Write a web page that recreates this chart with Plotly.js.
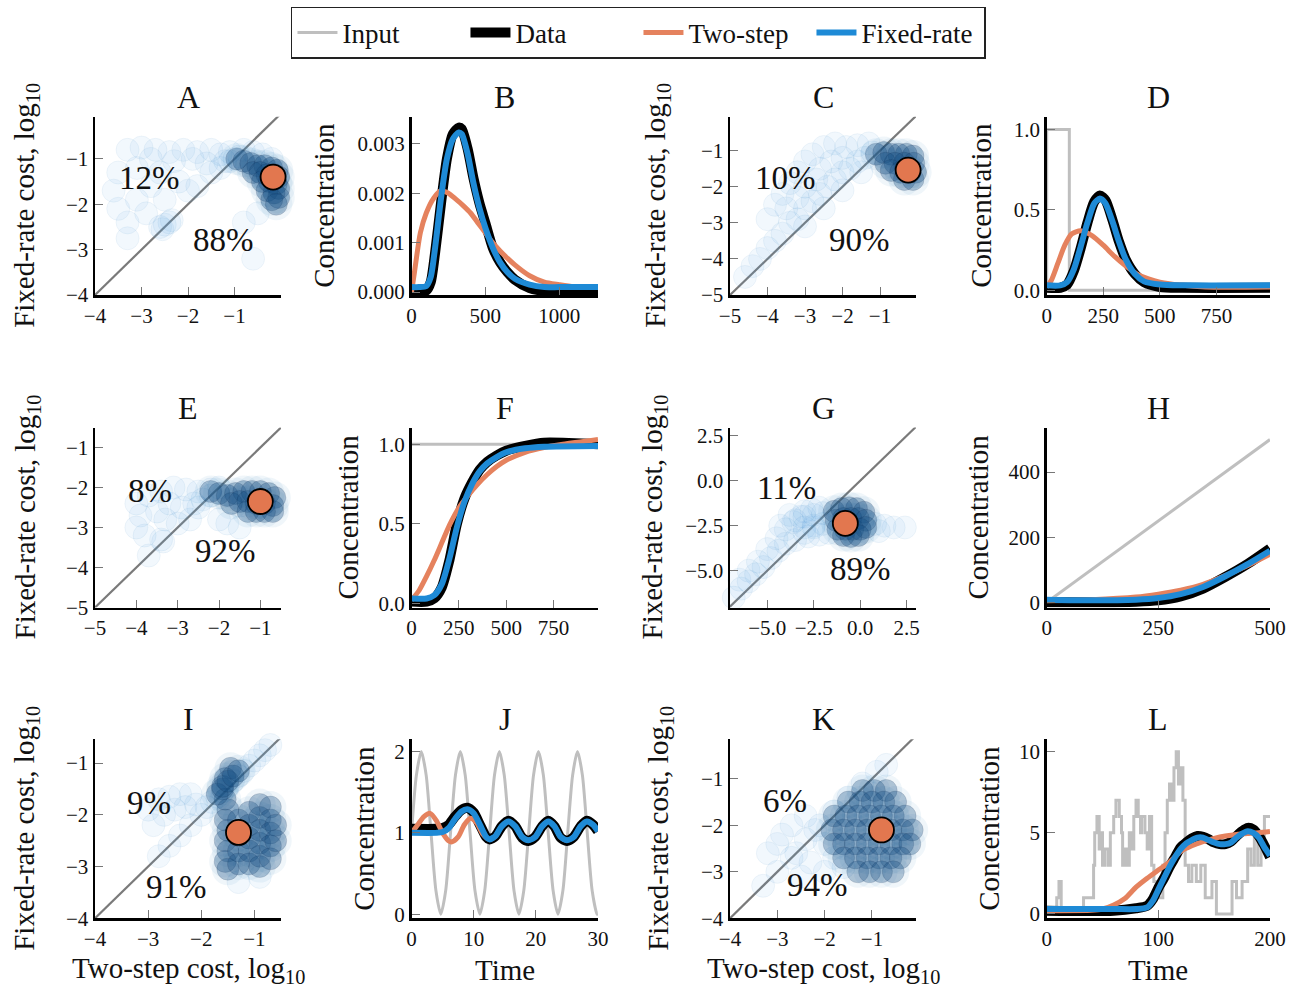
<!DOCTYPE html>
<html><head><meta charset="utf-8">
<script src="https://cdn.plot.ly/plotly-3.0.1.min.js"></script>
<style>html,body{margin:0;padding:0;background:#fff}#chart{width:1303px;height:989px}</style>
</head><body><div id="chart"></div>
<script>
// ================= DATA =================
const panelLetters = ['A','B','C','D','E','F','G','H','I','J','K','L'];
const legendNames = ['Input','Data','Two-step','Fixed-rate'];
const costYTitle = 'Fixed-rate cost, log<sub>10</sub>';
const costXTitle = 'Two-step cost, log<sub>10</sub>';
const concTitle = 'Concentration';
const timeTitle = 'Time';

// ---- cost scatter panels (log10 costs) ----
const aCloudX = [-3.3,-3.0,-2.7,-2.4,-2.1,-1.8,-1.5,-1.3,-1.1,-2.8,-2.3,-1.9,-1.6,-1.2,-3.1,-3.5,-3.6,-3.5,-3.3,-3.3,-3.1,-2.9,-2.8,-2.5,-2.6,-2.2,-2.0,-2.6,-2.5,-2.4,-2.55,-2.35,-1.8,-1.5,-1.3,-1.1,-1.0,-0.9,-0.6,-0.8,-0.5,-0.8,-0.6,-0.4,-0.2];
const aCloudY = [-0.8,-0.75,-0.8,-0.85,-0.8,-0.85,-0.8,-0.9,-0.85,-1.0,-1.05,-1.0,-1.1,-1.05,-1.2,-1.3,-1.7,-2.1,-2.4,-2.75,-1.9,-2.2,-1.6,-1.9,-1.3,-1.5,-1.7,-2.5,-2.45,-2.4,-2.55,-2.35,-1.6,-1.3,-1.2,-1.05,-1.0,-0.95,-3.2,-2.4,-2.2,-0.8,-0.85,-0.9,-1.0];
const aCoreX = [-0.95,-0.8,-0.65,-0.5,-0.35,-0.2,-0.08,-0.6,-0.45,-0.3,-0.15,-0.05,-0.4,-0.25,-0.1,-0.05,-0.3,-0.15,-0.05,-0.2,-0.1];
const aCoreY = [-1.0,-1.05,-1.1,-1.15,-1.15,-1.2,-1.25,-1.3,-1.3,-1.35,-1.35,-1.4,-1.5,-1.5,-1.55,-1.65,-1.7,-1.75,-1.85,-1.9,-2.0];
const aDot = [-0.17,-1.40];
const aPct = ['12%','88%'], aPctX = [-2.82,-1.24], aPctY = [-1.42,-2.79];

const cCloudX = [-4.6,-4.4,-4.2,-4.0,-3.8,-3.6,-3.4,-3.2,-3.0,-2.8,-2.6,-2.4,-2.2,-2.0,-1.8,-1.6,-1.4,-1.2,-4.0,-3.8,-3.6,-3.4,-3.2,-3.0,-2.8,-2.5,-2.2,-1.9,-1.6,-1.3,-3.5,-3.0,-2.6,-2.3,-2.0,-2.7,-3.2,-2.5,-2.0,-1.5,-3.0];
const cCloudY = [-4.5,-4.2,-4.0,-3.7,-3.5,-3.3,-3.0,-2.9,-2.6,-2.4,-2.2,-2.0,-1.8,-1.6,-1.5,-1.3,-1.2,-1.05,-2.9,-2.5,-2.2,-1.9,-1.6,-1.3,-1.1,-0.9,-0.8,-0.9,-0.85,-0.8,-2.6,-2.0,-1.5,-1.3,-1.2,-1.8,-2.3,-2.6,-2.1,-1.6,-3.1];
const cCoreX = [-1.1,-0.9,-0.7,-0.5,-0.3,-0.12,-0.85,-0.6,-0.35,-0.1,-0.7,-0.45,-0.2,-0.05,-0.35,-0.12];
const cCoreY = [-1.1,-1.05,-1.1,-1.1,-1.1,-1.15,-1.35,-1.35,-1.35,-1.35,-1.55,-1.6,-1.6,-1.6,-1.8,-1.8];
const cDot = [-0.25,-1.54];
const cPct = ['10%','90%'], cPctX = [-3.53,-1.55], cPctY = [-1.77,-3.48];

const eCloudX = [-4.0,-3.7,-3.4,-3.1,-2.8,-2.5,-2.2,-3.9,-4.0,-3.8,-3.5,-3.2,-2.9,-2.6,-3.3,-3.0,-2.7,-3.7,-3.35,-3.4,-2.4,-2.2,-2.0,-2.5,-1.8,-1.5,-2.0];
const eCloudY = [-2.4,-2.2,-2.1,-2.0,-2.05,-2.1,-2.05,-2.7,-3.0,-3.2,-2.6,-2.4,-2.5,-2.4,-2.8,-2.9,-2.8,-3.7,-3.35,-3.3,-2.3,-2.2,-2.0,-2.5,-2.9,-3.0,-2.8];
const eCoreX = [-2.2,-2.0,-1.8,-1.6,-1.4,-1.2,-1.0,-0.8,-0.65,-1.7,-1.5,-1.3,-1.1,-0.9,-0.7,-1.3,-1.1,-0.9,-0.7];
const eCoreY = [-2.1,-2.15,-2.2,-2.15,-2.1,-2.1,-2.1,-2.15,-2.25,-2.4,-2.35,-2.35,-2.4,-2.4,-2.45,-2.6,-2.6,-2.6,-2.6];
const eDot = [-1.0,-2.35];
const ePct = ['8%','92%'], ePctX = [-3.68,-1.85], ePctY = [-2.08,-3.58];

const gCloudX = [-6.8,-6.4,-6.0,-5.6,-5.2,-4.8,-4.4,-4.0,-6.0,-5.5,-5.0,-4.5,-4.0,-3.6,-3.2,-3.0,-2.6,-2.2,-3.5,-3.0,-2.5,-3.8,-4.3,-6.5,0.8,1.3,1.8,2.4,1.0,-3.5,-3.0,-2.5,-2.0,-3.0,-2.5,-2.0,-1.7,-2.2,-2.8];
const gCloudY = [-6.5,-6.0,-5.6,-5.2,-4.8,-4.3,-3.9,-3.5,-5.0,-4.5,-3.8,-3.2,-2.7,-2.3,-2.0,-1.7,-1.6,-1.5,-3.3,-2.9,-2.6,-1.9,-2.5,-5.5,-2.4,-2.5,-2.6,-2.6,-2.8,-2.2,-2.0,-1.9,-1.8,-2.6,-2.5,-2.4,-2.9,-3.0,-3.1];
const gCoreX = [-1.4,-1.0,-0.6,-0.2,0.2,-1.3,-0.9,-0.5,-0.1,0.3,-1.2,-0.8,-0.4,0.0,0.3,-0.9,-0.5,-0.1];
const gCoreY = [-1.7,-1.55,-1.5,-1.55,-1.75,-2.2,-2.1,-2.1,-2.1,-2.2,-2.7,-2.7,-2.7,-2.7,-2.6,-3.05,-3.1,-3.05];
const gDot = [-0.8,-2.37];
const gPct = ['11%','89%'], gPctX = [-3.97,0.0], gPctY = [-0.42,-4.92];

const iCloudX = [-2.8,-2.6,-2.4,-2.2,-2.0,-1.9,-1.8,-1.7,-1.6,-1.5,-1.4,-1.3,-1.2,-1.1,-1.0,-0.9,-0.8,-0.7,-3.0,-2.8,-2.6,-2.4,-2.2,-2.9,-2.7,-2.5,-2.3,-2.1,-1.3,-0.9];
const iCloudY = [-2.8,-2.6,-2.4,-2.2,-2.0,-1.85,-1.75,-1.65,-1.55,-1.45,-1.35,-1.25,-1.15,-1.05,-0.95,-0.85,-0.75,-0.65,-1.9,-1.7,-1.65,-1.6,-1.6,-2.2,-2.0,-1.9,-1.85,-1.8,-3.3,-3.2];
const iCoreX = [-1.45,-1.55,-1.6,-1.55,-1.5,-1.55,-1.5,-1.55,-1.5,-1.55,-1.5,-1.3,-1.3,-1.3,-1.3,-1.1,-1.1,-1.1,-1.1,-1.1,-0.9,-0.9,-0.9,-0.9,-0.9,-0.9,-0.7,-0.7,-0.7,-0.7,-0.7,-0.6,-0.6,-1.7,-1.6,-1.5,-1.4,-1.3];
const iCoreY = [-1.1,-1.3,-1.5,-1.7,-1.9,-2.1,-2.3,-2.5,-2.7,-2.9,-3.05,-2.1,-2.4,-2.7,-2.95,-1.95,-2.2,-2.45,-2.7,-2.95,-1.8,-2.05,-2.3,-2.55,-2.8,-3.0,-1.85,-2.1,-2.35,-2.6,-2.85,-2.2,-2.5,-1.6,-1.45,-1.35,-1.25,-1.15];
const iDot = [-1.30,-2.34];
const iPct = ['9%','91%'], iPctX = [-2.99,-2.47], iPctY = [-1.77,-3.39];

const kCloudX = [-3.3,-3.0,-2.7,-2.4,-2.1,-1.8,-1.5,-1.2,-0.9,-0.7,-3.0,-2.7,-2.4,-2.6,-2.3,-2.0,-2.0,-1.8,-1.6,-2.2,-3.2,-2.9,-2.5];
const kCloudY = [-3.3,-3.0,-2.7,-2.3,-2.0,-1.7,-1.4,-1.1,-0.85,-0.7,-2.4,-2.0,-1.8,-2.6,-2.8,-2.4,-3.0,-2.7,-2.9,-2.1,-2.6,-2.2,-3.1];
const kCoreX = [-1.2,-0.95,-0.7,-1.5,-1.25,-1.0,-0.75,-0.5,-1.8,-1.55,-1.3,-1.05,-0.8,-0.55,-0.3,-1.85,-1.6,-1.35,-1.1,-0.85,-0.6,-0.35,-0.15,-1.8,-1.6,-1.35,-1.1,-0.85,-0.6,-0.35,-0.2,-1.6,-1.35,-1.1,-0.85,-0.6,-0.4,-1.3,-1.05,-0.8,-0.55];
const kCoreY = [-1.25,-1.25,-1.25,-1.5,-1.5,-1.5,-1.5,-1.5,-1.8,-1.8,-1.8,-1.8,-1.8,-1.8,-1.8,-2.1,-2.1,-2.1,-2.1,-2.1,-2.1,-2.1,-2.1,-2.4,-2.4,-2.4,-2.4,-2.4,-2.4,-2.4,-2.4,-2.7,-2.7,-2.7,-2.7,-2.7,-2.7,-3.0,-3.0,-3.0,-3.0];
const kDot = [-0.8,-2.1];
const kPct = ['6%','94%'], kPctX = [-2.84,-2.16], kPctY = [-1.48,-3.28];

// ---- concentration panels ----
const bTime = [0,50,100,130,160,200,240,280,320,340,380,420,460,500,550,600,650,700,800,900,1000,1263];
const bData = [0,0,0.00003,0.0002,0.0008,0.0018,0.0027,0.0032,0.00333,0.0033,0.0029,0.0023,0.0018,0.0014,0.0009,0.0006,0.0004,0.00025,0.00008,0.00002,0,0];
const bFixed = [0.0001,0.0001,0.00012,0.0003,0.0009,0.0019,0.0027,0.0031,0.00323,0.0032,0.0028,0.0022,0.0017,0.0013,0.0009,0.0006,0.0004,0.00027,0.00015,0.0001,0.0001,0.0001];
const bTwoTime = [0,20,60,100,150,200,250,300,350,400,450,500,550,600,700,800,900,1000,1100,1263];
const bTwo = [0,0.0004,0.0012,0.0016,0.0019,0.00205,0.002,0.00188,0.00175,0.0016,0.0014,0.0012,0.001,0.00083,0.00055,0.00033,0.0002,0.00015,0.00011,0.0001];

const dInTime = [0,0,100,100,987];
const dIn = [0,1,1,0,0];
const dTime = [0,60,90,120,150,180,210,235,260,290,320,350,390,430,500,600,987];
const dData = [0.015,0.015,0.035,0.12,0.26,0.42,0.55,0.59,0.56,0.44,0.3,0.19,0.1,0.05,0.02,0.015,0.015];
const dFixed = [0.03,0.03,0.05,0.13,0.27,0.42,0.54,0.57,0.54,0.43,0.3,0.19,0.1,0.055,0.035,0.03,0.03];
const dTwoTime = [0,20,50,80,110,150,200,250,300,350,400,450,500,600,700,987];
const dTwo = [0.02,0.06,0.17,0.28,0.35,0.37,0.34,0.28,0.21,0.15,0.1,0.07,0.05,0.03,0.02,0.02];

const fInTime = [0,985];
const fIn = [1,1];
const fTime = [0,80,120,160,200,240,280,320,360,400,450,500,600,700,985];
const fData = [0.01,0.01,0.03,0.1,0.27,0.5,0.66,0.76,0.84,0.89,0.93,0.96,0.99,1.01,1.0];
const fFixed = [0.03,0.03,0.05,0.12,0.28,0.48,0.64,0.75,0.83,0.88,0.92,0.95,0.975,0.985,0.99];
const fTwoTime = [0,40,80,120,160,200,250,300,350,400,450,500,600,700,800,985];
const fTwo = [0.02,0.08,0.17,0.27,0.38,0.49,0.6,0.68,0.75,0.81,0.86,0.9,0.95,0.98,1.0,1.03];

const hInTime = [0,500];
const hIn = [0,500];
const hTime = [0,100,200,250,300,350,400,450,500];
const hData = [0,0,2,6,18,42,78,118,165];
const hFixed = [8,6,8,13,25,47,80,117,158];
const hTwo = [5,8,16,25,37,55,82,113,148];

const jInTime = [0,0.79,1.57,2.36,3.14,3.93,4.71,5.50,6.28,7.07,7.85,8.64,9.42,10.21,11.00,11.78,12.57,13.35,14.14,14.92,15.71,16.49,17.28,18.06,18.85,19.63,20.42,21.21,21.99,22.78,23.56,24.35,25.13,25.92,26.70,27.49,28.27,29.06,29.85,30];
const jIn = [1,1.71,2,1.71,1,0.29,0,0.29,1,1.71,2,1.71,1,0.29,0,0.29,1,1.71,2,1.71,1,0.29,0,0.29,1,1.71,2,1.71,1,0.29,0,0.29,1,1.71,2,1.71,1,0.29,0,0.01];
const jTime = [0,4,5,6,7,8,9,10,11,12,12.5,13.5,14.5,15.6,16.7,17.8,18.8,19.9,21,22,23,24,25,26.1,27.2,28.2,29.2,30];
const jData = [1.05,1.05,1.06,1.1,1.2,1.28,1.31,1.25,1.1,0.95,0.92,0.96,1.08,1.15,1.08,0.94,0.9,0.95,1.08,1.15,1.08,0.94,0.9,0.95,1.08,1.15,1.1,1.02];
const jFixed = [1.0,1.0,1.01,1.06,1.17,1.26,1.29,1.24,1.1,0.95,0.92,0.96,1.08,1.14,1.08,0.95,0.91,0.95,1.08,1.14,1.08,0.95,0.91,0.95,1.08,1.14,1.1,1.02];
const jTwoTime = [0,1,2,3,4,5,6,6.5,7.5,8.5,9.5,10.5,11.5,12.5,13.5,14.5,15.6,16.7,17.8,18.8,19.9,21,22,23,24,25,26.1,27.2,28.2,29.2,30];
const jTwo = [1.0,1.1,1.2,1.24,1.15,1.0,0.9,0.89,0.95,1.1,1.18,1.12,0.98,0.92,0.96,1.08,1.14,1.08,0.95,0.91,0.95,1.08,1.14,1.08,0.95,0.91,0.95,1.08,1.14,1.1,1.02];

const lInTime = [0,9,11,13,33,42,43,45,47,49,50,52,55,57,60,62,65,67,68,70,72,74,76,78,80,82,84,85,88,90,92,94,96,98,104,106,108,110,112,114,116,118,120,122,124,127,130,134,138,142,148,152,158,166,170,175,180,183,186,189,192,195,200];
const lIn = [0,1,2,0,1,3,5,6,4,5,3,4,3,5,6,7,6,5,3,4,3,5,4,6,7,6,5,6,5,4,6,3,2,1,3,5,7,8,7,9,10,8,9,7,3,2,3,2,3,1,2,0,0,2,1,2,4,3,5,3,4,6,6];
const lTime = [0,60,80,90,95,100,105,110,115,120,125,130,135,140,145,150,155,160,165,170,175,180,185,190,195,200];
const lData = [0.2,0.2,0.35,0.5,0.9,1.6,2.2,2.9,3.5,4.1,4.4,4.65,4.8,4.75,4.6,4.4,4.3,4.3,4.45,4.8,5.1,5.3,5.2,4.8,4.2,3.5];
const lFixed = [0.3,0.3,0.3,0.4,0.8,1.5,2.2,2.9,3.5,4.0,4.35,4.55,4.7,4.7,4.55,4.4,4.3,4.3,4.4,4.7,4.95,5.1,5.0,4.7,4.1,3.6];
const lTwoTime = [0,40,50,60,70,80,90,100,110,120,130,140,150,160,170,180,190,200];
const lTwo = [0.2,0.22,0.3,0.55,0.95,1.65,2.2,2.7,3.2,3.85,4.2,4.45,4.65,4.8,4.9,4.95,5.0,5.08];

// ---- tick values ----
const ticks4 = [-4,-3,-2,-1];
const ticks5 = [-5,-4,-3,-2,-1];
const ticksG = [-5,-2.5,0,2.5];
const ticksB_x = [0,500,1000], ticksB_y = [0,0.001,0.002,0.003];
const ticksT_x = [0,250,500,750], ticksU_y = [0,0.5,1.0];
const ticksH_x = [0,250,500], ticksH_y = [0,200,400];
const ticksJ_x = [0,10,20,30], ticksJ_y = [0,1,2];
const ticksL_x = [0,100,200], ticksL_y = [0,5,10];

// ================= STYLE / LAYOUT =================
const FONT = 'Liberation Serif, DejaVu Serif, serif';
const W = 1303, H = 989;
const colPx = [[95,281],[411.5,598],[730,916],[1046.7,1270]];
const rowPx = [[116.7,295],[427.5,607.5],[739.3,918.3]];
// centre (px) of each panel's rotated y title, per row and column
const yTitlePx = [[26,324,657,981],[26,347,653,977],[26,364,660,989]];
const xTitleRowPx = 970;
const C_IN = '#bfbfbf', C_DATA = '#000000', C_TWO = '#e5825e', C_FIX = '#1e8ad6', C_DOT = '#e2774f';

const traces = [];
const annotations = [];
const layout = {
  width: W, height: H, margin: {l:0,r:0,t:0,b:0},
  paper_bgcolor: '#fff', plot_bgcolor: 'rgba(0,0,0,0)',
  font: {family: FONT, color: '#111'},
  showlegend: true,
  legend: {orientation:'h', x:0.49, xanchor:'center', y:0.993, yanchor:'top',
           bordercolor:'#222', borderwidth:1.5, font:{family:FONT,size:27,color:'#111'},
           itemwidth:40, entrywidth:118, entrywidthmode:'pixels', traceorder:'normal'},
  hovermode: false,
  annotations: annotations
};

function sfx(i){ return i === 1 ? '' : String(i); }

function setAxes(i, row, col, xr, yr, xt, yt, xfmt, yfmt, yTitle, xTitle){
  const base = {showline:true, linecolor:'#000', linewidth:2.5, ticks:'inside', ticklen:8, tickwidth:1,
    tickcolor:'#777', showgrid:false, zeroline:false, fixedrange:true,
    tickfont:{family:FONT, size:21, color:'#111'}};
  layout['xaxis'+sfx(i)] = Object.assign({}, base, {
    domain:[colPx[col][0]/W, colPx[col][1]/W], range:xr, tickvals:xt, tickformat:xfmt||'',
    anchor:'y'+sfx(i)
  });
  layout['yaxis'+sfx(i)] = Object.assign({}, base, {
    domain:[1-rowPx[row][1]/H, 1-rowPx[row][0]/H], range:yr, tickvals:yt, tickformat:yfmt||'',
    anchor:'x'+sfx(i)
  });
  // panel letter
  annotations.push({xref:'paper', yref:'paper', x:(colPx[col][0]+colPx[col][1])/2/W,
    y:1-(rowPx[row][0]-20)/H, text:panelLetters[i-1], showarrow:false, xanchor:'center', yanchor:'middle',
    font:{family:FONT,size:32,color:'#111'}});
  // y-axis title
  annotations.push({xref:'paper', yref:'paper', x:yTitlePx[row][col]/W, y:1-(rowPx[row][0]+rowPx[row][1])/2/H,
    text:yTitle, textangle:-90, showarrow:false, xanchor:'center', yanchor:'middle',
    font:{family:FONT,size:29,color:'#111'}});
  // x-axis title (bottom row only)
  if (xTitle) annotations.push({xref:'paper', yref:'paper', x:(colPx[col][0]+colPx[col][1])/2/W,
    y:1-xTitleRowPx/H, text:xTitle, showarrow:false, xanchor:'center', yanchor:'middle',
    font:{family:FONT,size:29,color:'#111'}});
}

function costPanel(i, row, col, xr, yr, xt, yt, fmt, cx, cy, kx, ky, dot, pct, px, py, xTitle){
  const s = sfx(i);
  setAxes(i,row,col,xr,yr,xt,yt,fmt,fmt,costYTitle,xTitle);
  const lo = Math.min(xr[0],yr[0]), hi = Math.max(xr[1],yr[1]);
  traces.push({type:'scatter', mode:'lines', x:[lo,hi], y:[lo,hi], xaxis:'x'+s, yaxis:'y'+s,
    line:{color:'#7a7a7a', width:2.2}, showlegend:false, hoverinfo:'skip'});
  // faint cloud of individual runs
  traces.push({type:'scatter', mode:'markers', x:cx, y:cy, xaxis:'x'+s, yaxis:'y'+s, cliponaxis:false,
    marker:{size:23, color:'rgba(90,170,225,0.08)', line:{color:'rgba(60,130,190,0.07)', width:1}},
    showlegend:false, hoverinfo:'skip'});
  // soft halo around the dense core
  traces.push({type:'scatter', mode:'markers', x:kx, y:ky, xaxis:'x'+s, yaxis:'y'+s, cliponaxis:false,
    marker:{size:32, color:'rgba(45,125,190,0.07)', line:{width:0}},
    showlegend:false, hoverinfo:'skip'});
  // dense core
  traces.push({type:'scatter', mode:'markers', x:kx, y:ky, xaxis:'x'+s, yaxis:'y'+s, cliponaxis:false,
    marker:{size:22, color:'rgba(20,75,130,0.30)', line:{color:'rgba(5,25,55,0.12)', width:1}},
    showlegend:false, hoverinfo:'skip'});
  traces.push({type:'scatter', mode:'markers', x:[dot[0]], y:[dot[1]], xaxis:'x'+s, yaxis:'y'+s, cliponaxis:false,
    marker:{size:25, color:C_DOT, line:{color:'#000', width:1.8}}, showlegend:false, hoverinfo:'skip'});
  for (let k=0;k<pct.length;k++){
    annotations.push({xref:'x'+s, yref:'y'+s, x:px[k], y:py[k], text:pct[k], showarrow:false,
      xanchor:'center', yanchor:'middle', font:{family:FONT,size:33,color:'#111'}});
  }
}

function concPanel(i, row, col, xr, yr, xt, yt, yfmt, inp, data, two, fixed, xTitle, legend){
  const s = sfx(i);
  setAxes(i,row,col,xr,yr,xt,yt,'',yfmt,concTitle,xTitle);
  const mk = (xy, color, width, name, shape) => ({type:'scatter', mode:'lines', x:xy[0], y:xy[1],
    xaxis:'x'+s, yaxis:'y'+s, name:name, legendgroup:name, showlegend:!!legend,
    line:{color:color, width:width, shape:shape||'spline', smoothing:0.7}, hoverinfo:'skip'});
  if (inp) traces.push(mk(inp, C_IN, 3, legendNames[0], inp[2]));
  traces.push(mk(data, C_DATA, 10, legendNames[1]));
  traces.push(mk(two, C_TWO, 5, legendNames[2]));
  traces.push(mk(fixed, C_FIX, 6, legendNames[3]));
}

// Row 1
costPanel(1,0,0,[-4,0],[-4,-0.07],ticks4,ticks4,'',aCloudX,aCloudY,aCoreX,aCoreY,aDot,aPct,aPctX,aPctY,null);
concPanel(2,0,1,[0,1263],[-0.00006,0.00355],ticksB_x,ticksB_y,'.3f',null,[bTime,bData],[bTwoTime,bTwo],[bTime,bFixed],null,false);
costPanel(3,0,2,[-5,-0.04],[-5,-0.06],ticks5,ticks5,'',cCloudX,cCloudY,cCoreX,cCoreY,cDot,cPct,cPctX,cPctY,null);
concPanel(4,0,3,[0,987],[-0.03,1.08],ticksT_x,ticksU_y,'.1f',[dInTime,dIn,'linear'],[dTime,dData],[dTwoTime,dTwo],[dTime,dFixed],null,true);
// Row 2
costPanel(5,1,0,[-5,-0.5],[-5,-0.5],ticks5,ticks5,'',eCloudX,eCloudY,eCoreX,eCoreY,eDot,ePct,ePctX,ePctY,null);
concPanel(6,1,1,[0,985],[-0.027,1.106],ticksT_x,ticksU_y,'.1f',[fInTime,fIn,'linear'],[fTime,fData],[fTwoTime,fTwo],[fTime,fFixed],null,false);
costPanel(7,1,2,[-7,3],[-7.05,2.96],ticksG,ticksG,'.1f',gCloudX,gCloudY,gCoreX,gCoreY,gDot,gPct,gPctX,gPctY,null);
concPanel(8,1,3,[0,500],[-16,537],ticksH_x,ticksH_y,'',[hInTime,hIn,'linear'],[hTime,hData],[hTime,hTwo],[hTime,hFixed],null,false);
// Row 3
costPanel(9,2,0,[-4,-0.5],[-4,-0.54],ticks4,ticks4,'',iCloudX,iCloudY,iCoreX,iCoreY,iDot,iPct,iPctX,iPctY,costXTitle);
concPanel(10,2,1,[0,30],[-0.05,2.15],ticksJ_x,ticksJ_y,'',[jInTime,jIn,'spline'],[jTime,jData],[jTwoTime,jTwo],[jTime,jFixed],timeTitle,false);
costPanel(11,2,2,[-4,-0.07],[-4,-0.15],ticks4,ticks4,'',kCloudX,kCloudY,kCoreX,kCoreY,kDot,kPct,kPctX,kPctY,costXTitle);
concPanel(12,2,3,[0,200],[-0.27,10.76],ticksL_x,ticksL_y,'',[lInTime,lIn,'hv'],[lTime,lData],[lTwoTime,lTwo],[lTime,lFixed],timeTitle,false);

Plotly.newPlot('chart', traces, layout, {staticPlot:true, displayModeBar:false});
</script></body></html>
